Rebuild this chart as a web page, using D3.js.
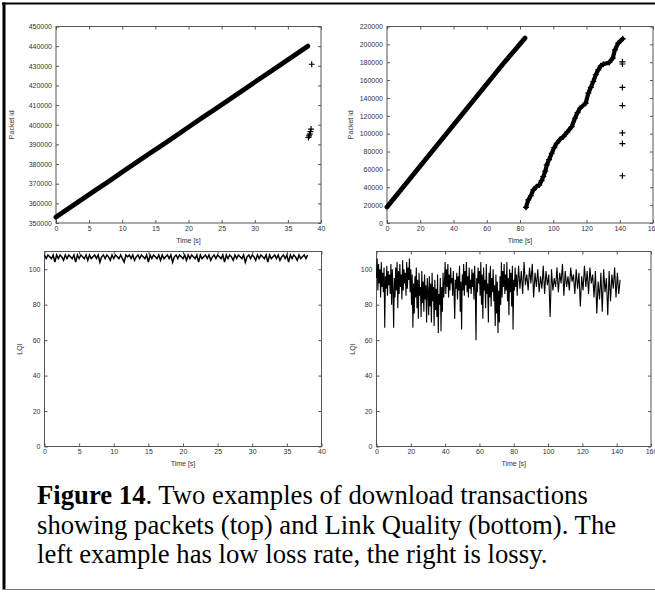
<!DOCTYPE html>
<html><head><meta charset="utf-8">
<script src="https://cdn.jsdelivr.net/npm/d3@7/dist/d3.min.js"></script>
<style>
html,body{margin:0;padding:0;background:#fff;}
svg{display:block;}
.tick text{font-family:"Liberation Sans",Arial,sans-serif;font-size:7px;fill:#333;}
.lab{font-family:"Liberation Sans",Arial,sans-serif;font-size:7px;fill:#333;}
</style></head><body>
<script>
// ---------- DATA ----------
// Top-left: packet id vs time (low loss) — main run
const tlTime = [0,2,4,6,8,10,12,14,16,18,20,22,24,26,28,30,32,34,36,38];
const tlPacket = [353000,357600,362200,366800,371300,375900,380500,385100,389600,394200,398800,403400,407900,412500,417100,421700,426200,430800,435400,440000];
// Top-left outliers
const tlOutTime = [38.6,38.1,38.2,38.3,38.4,38.5];
const tlOutPacket = [430800,393500,394300,395200,396500,397800];

// Top-right: first run
const trTime1 = [0,10,20,30,40,50,60,70,83];
const trPacket1 = [18000,40900,63800,86800,109700,132600,155500,178500,207000];
// Top-right: second (lossy) run
const trTime2 = [83.6,85.0,86.5,88.0,89.8,91.6,93.0,94.0,95.2,96.1,97.5,99.1,100.6,102.1,104.0,106.1,108.5,111.1,113.1,114.6,116.1,119.5,121.1,122.6,124.1,125.6,127.1,128.6,130.1,133.7,135.8,137.1,139.1,141.8];
const trPacket2 = [17600,25800,30500,37000,40500,42600,47500,51900,58000,65000,71000,78100,84500,89300,93500,96700,102000,107900,117300,123500,128500,134100,145300,151800,158400,166000,171500,176000,177800,179700,184600,193900,201400,206200];
// Top-right outliers
const trOutTime = [141.6,141.6,141.6,141.6,141.6,141.6,141.6];
const trOutPacket = [180500,178000,151800,131500,100800,88900,52900];

// Bottom-left: LQI (sampled every 0.25 s)
const blStep = 0.25;
const blLQI = [
108,106,108,107,106,108,104,108,106,108,107,105,108,106,108,107,106,108,104,108,
106,108,107,106,108,105,108,106,107,108,106,108,104,107,108,106,108,107,105,108,
106,108,107,106,108,106,104,108,107,108,106,108,105,107,108,106,108,107,106,108,
104,108,106,108,107,106,108,105,108,106,107,108,106,108,104,107,108,106,108,107,
106,108,105,108,106,108,107,106,108,104,108,106,107,108,106,108,105,107,108,106,
108,107,106,108,104,108,106,108,107,105,108,106,108,107,106,108,104,107,108,106,
108,107,105,108,106,108,107,106,108,104,108,106,107,108,106,108,105,107,108,106,
108,104,108,106,108,107,105,108,106,107,108,106,108];

// Bottom-right: LQI, dense part 0–81.6 s (every 0.4 s)
const brStepA = 0.4;
const brLQIa = [
95,106,88,103,92,100,84,104,90,98,87,101,67,96,89,102,85,99,91,97,86,103,80,100,88,
67,95,84,101,88,104,78,99,86,103,90,97,83,105,88,100,92,98,85,104,89,101,94,106,87,
100,80,97,67,92,75,96,84,101,78,94,72,98,85,90,73,99,81,93,76,97,83,91,70,95,
88,74,96,79,92,70,98,82,90,68,94,77,89,73,97,64,86,80,95,65,90,76,98,84,92,
104,86,100,90,103,84,97,88,101,92,95,85,99,87,72,94,89,98,83,96,88,102,76,93,66,
97,88,103,85,99,91,104,87,96,84,101,89,94,86,100,90,98,83,102,88,60,95,87,101,92,
99,85,104,80,97,72,101,88,94,78,103,86,92,70,98,84,102,79,95,87,100,82,91,68,97,
75,93,64,88,70,96,80,104,84,99,90,103,86,97,88,104,82,95,74,100,87,98,79,102,66,
94,88,101,90,97];
// Bottom-right: LQI, sparser part from 82 s (every 0.8 s)
const brStartB = 82, brStepB = 0.8;
const brLQIb = [
85,102,89,99,86,104,91,97,88,101,
92,103,84,98,90,100,87,96,89,102,
86,99,91,97,73,100,88,95,90,101,
87,98,92,103,85,99,90,96,88,101,
93,97,86,100,89,98,79,96,88,102,
90,99,86,101,92,97,84,99,75,93,
83,98,76,100,87,95,74,99,82,97,
89,101,84,98,86,94];

const timeTicks40 = [0,5,10,15,20,25,30,35,40];
const timeTicks160 = [0,20,40,60,80,100,120,140,160];
const packetTicksL = [350000,360000,370000,380000,390000,400000,410000,420000,430000,440000,450000];
const packetTicksR = [0,20000,40000,60000,80000,100000,120000,140000,160000,180000,200000,220000];
const lqiTicks = [0,20,40,60,80,100];
const captionBold = "Figure 14";
const captionLines = [". Two examples of download transactions",
  "showing packets (top) and Link Quality (bottom). The",
  "left example has low loss rate, the right is lossy."];

// ---------- DRAW ----------
const W = 655, H = 592;
const svg = d3.select("body").append("svg").attr("width", W).attr("height", H);

// outer figure border
svg.append("line").attr("x1",2).attr("x2",W).attr("y1",3.5).attr("y2",3.5).attr("stroke","#000").attr("stroke-width",2);
svg.append("line").attr("x1",4).attr("x2",4).attr("y1",2.5).attr("y2",589.5).attr("stroke","#000").attr("stroke-width",3);
svg.append("line").attr("x1",2.5).attr("x2",W).attr("y1",589.5).attr("y2",589.5).attr("stroke","#777").attr("stroke-width",1);

const frameColor = "#555";
const plusPath = "M-3,0H3M0,-3V3";

function panel(cfg){
  const g = svg.append("g");
  const x = d3.scaleLinear().domain(cfg.xd).range([cfg.x0, cfg.x1]);
  const y = d3.scaleLinear().domain(cfg.yd).range([cfg.y1, cfg.y0]);
  const fmt = d3.format("d");
  const ax = g.append("g").attr("transform",`translate(0,${cfg.y1})`)
    .call(d3.axisBottom(x).tickValues(cfg.xt).tickSize(-3).tickPadding(3).tickFormat(fmt));
  const axT = g.append("g").attr("transform",`translate(0,${cfg.y0})`)
    .call(d3.axisTop(x).tickValues(cfg.xt).tickSize(-3).tickFormat(""));
  const ay = g.append("g").attr("transform",`translate(${cfg.x0},0)`)
    .call(d3.axisLeft(y).tickValues(cfg.yt).tickSize(-3).tickPadding(4).tickFormat(fmt));
  const ayR = g.append("g").attr("transform",`translate(${cfg.x1},0)`)
    .call(d3.axisRight(y).tickValues(cfg.yt).tickSize(-3).tickFormat(""));
  [ax,axT,ay,ayR].forEach(a=>{a.select(".domain").remove(); a.selectAll(".tick line").attr("stroke",frameColor);});
  g.append("rect").attr("x",cfg.x0).attr("y",cfg.y0).attr("width",cfg.x1-cfg.x0).attr("height",cfg.y1-cfg.y0)
    .attr("fill","none").attr("stroke",frameColor).attr("stroke-width",1);
  g.append("text").attr("class","lab").attr("text-anchor","middle")
    .attr("x",(cfg.x0+cfg.x1)/2).attr("y",cfg.y1+19.5).text("Time [s]");
  g.append("text").attr("class","lab").attr("text-anchor","middle")
    .attr("transform",`translate(${cfg.ylx},${(cfg.y0+cfg.y1)/2}) rotate(-90)`).attr("dy","0.35em").text(cfg.ylab);
  return {g,x,y};
}

// Top-left
const p1 = panel({x0:56,x1:321,y0:26.5,y1:223,xd:[0,40],yd:[350000,450000],xt:timeTicks40,yt:packetTicksL,ylab:"Packet id",ylx:11.5});
p1.g.append("path").datum(d3.zip(tlTime,tlPacket))
  .attr("d", d3.line().x(d=>p1.x(d[0])).y(d=>p1.y(d[1])))
  .attr("fill","none").attr("stroke","#000").attr("stroke-width",4.8).attr("stroke-linecap","round");
p1.g.selectAll(".o1").data(d3.zip(tlOutTime,tlOutPacket)).join("path")
  .attr("transform",d=>`translate(${p1.x(d[0])},${p1.y(d[1])})`).attr("d",plusPath)
  .attr("stroke","#000").attr("stroke-width",1.2);

// Top-right
const p2 = panel({x0:387,x1:653,y0:26.5,y1:223,xd:[0,160],yd:[0,220000],xt:timeTicks160,yt:packetTicksR,ylab:"Packet id",ylx:351});
p2.g.append("path").datum(d3.zip(trTime1,trPacket1))
  .attr("d", d3.line().x(d=>p2.x(d[0])).y(d=>p2.y(d[1])))
  .attr("fill","none").attr("stroke","#000").attr("stroke-width",4.8).attr("stroke-linecap","round");
p2.g.append("path").datum(d3.zip(trTime2,trPacket2))
  .attr("d", d3.line().x(d=>p2.x(d[0])).y(d=>p2.y(d[1])))
  .attr("fill","none").attr("stroke","#000").attr("stroke-width",4.2).attr("stroke-linecap","round").attr("stroke-linejoin","round");
p2.g.selectAll(".m2").data(d3.zip(trTime2,trPacket2)).join("path")
  .attr("transform",d=>`translate(${p2.x(d[0])},${p2.y(d[1])})`).attr("d",plusPath)
  .attr("stroke","#000").attr("stroke-width",1.2);
p2.g.selectAll(".o2").data(d3.zip(trOutTime,trOutPacket)).join("path")
  .attr("transform",d=>`translate(${p2.x(d[0])},${p2.y(d[1])})`).attr("d",plusPath)
  .attr("stroke","#000").attr("stroke-width",1.2);

// Bottom-left
const p3 = panel({x0:44.5,x1:321.5,y0:251.5,y1:446.5,xd:[0,40],yd:[0,110],xt:timeTicks40,yt:lqiTicks,ylab:"LQI",ylx:20});
p3.g.append("path").datum(blLQI)
  .attr("d", d3.line().x((d,i)=>p3.x(i*blStep)).y(d=>p3.y(d)))
  .attr("fill","none").attr("stroke","#000").attr("stroke-width",1.5);

// Bottom-right
const p4 = panel({x0:376.5,x1:651,y0:251.5,y1:446.5,xd:[0,160],yd:[0,110],xt:timeTicks160,yt:lqiTicks,ylab:"LQI",ylx:353});
const brPts = brLQIa.map((v,i)=>[i*brStepA, v]).concat(brLQIb.map((v,i)=>[brStartB + i*brStepB, v]));
p4.g.append("path").datum(brPts)
  .attr("d", d3.line().x(d=>p4.x(d[0])).y(d=>p4.y(d[1])))
  .attr("fill","none").attr("stroke","#000").attr("stroke-width",1.1);

// Caption
const cap = svg.append("g").attr("font-family","'Liberation Serif','Times New Roman',serif").attr("font-size","26.7px").attr("fill","#000");
const l1 = cap.append("text").attr("x",37).attr("y",504);
l1.append("tspan").attr("font-weight","bold").text(captionBold);
l1.append("tspan").text(captionLines[0]);
cap.append("text").attr("x",37).attr("y",534).text(captionLines[1]);
cap.append("text").attr("x",37).attr("y",563).text(captionLines[2]);
</script>
</body></html>
